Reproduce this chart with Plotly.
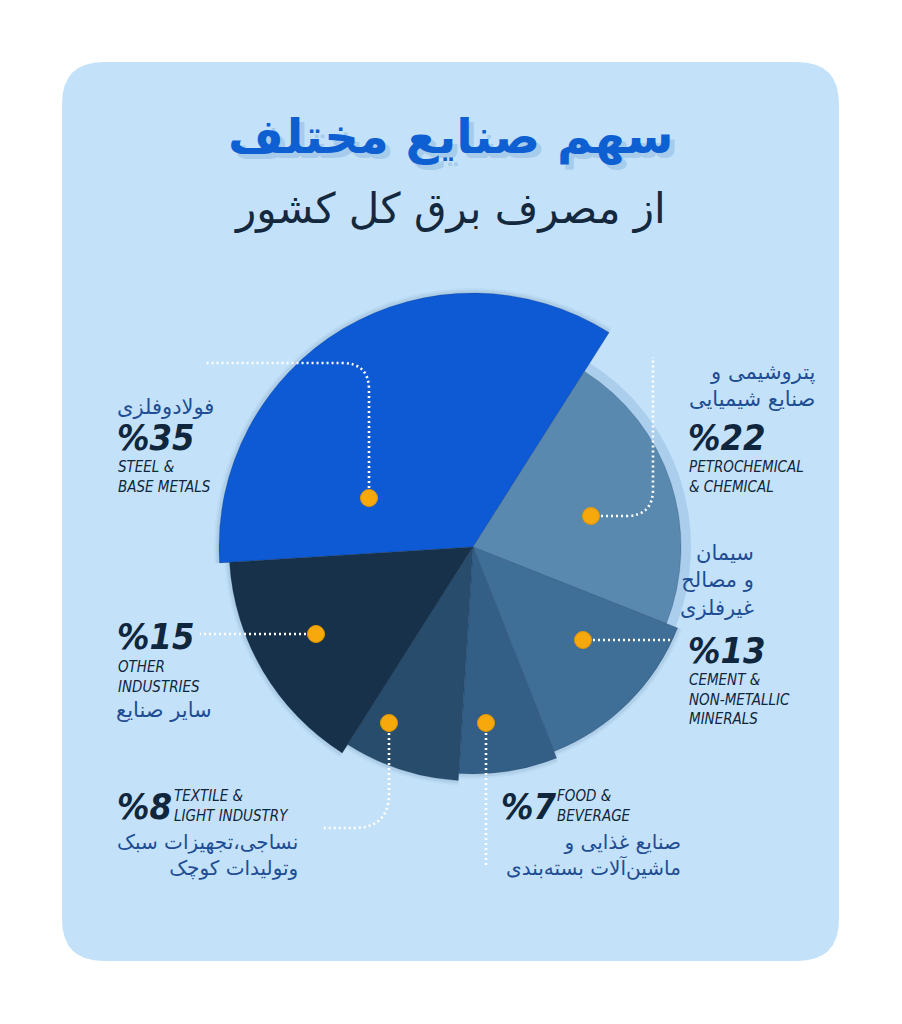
import plotly.graph_objects as go

W, H = 902, 1024

# ---------------- data ----------------
industries_en = ["STEEL &<br>BASE METALS", "PETROCHEMICAL<br>& CHEMICAL",
                 "CEMENT &<br>NON-METALLIC<br>MINERALS", "FOOD &<br>BEVERAGE",
                 "TEXTILE &<br>LIGHT INDUSTRY", "OTHER<br>INDUSTRIES"]
industries_fa = ["فولادوفلزی", "پتروشیمی و<br>صنایع شیمیایی", "سیمان<br>و مصالح<br>غیرفلزی",
                 "صنایع غذایی و<br>ماشین‌آلات بسته‌بندی", "نساجی،تجهیزات سبک<br>وتولیدات کوچک",
                 "سایر صنایع"]
shares = [35, 22, 13, 7, 8, 15]
title_fa = "سهم صنایع مختلف"
subtitle_fa = "از مصرف برق کل کشور"

# ---------------- style ----------------
slice_colors = ["#0D5AD4", "#5A89AF", "#3F6E97", "#335E86", "#274C6C", "#17314A"]
slice_radius = [254, 208, 220, 227, 234, 244]
start_angle = 183.6
NAVY = "#10263D"
FA_BLUE = "#1F4D93"
DOT = "#F7A80C"
CX, CY, RMAX = 473, 547, 260
EN_FONT = "DejaVu Sans Condensed, sans-serif"
FA_FONT = "DejaVu Sans, Noto Sans, sans-serif"


def px(x):
    return x / W


def py(y):
    return 1 - y / H


total = sum(shares)
widths, centers = [], []
cum = 0
for v in shares:
    w = v / total * 360
    widths.append(w)
    centers.append(start_angle - cum - w / 2)
    cum += w

fig = go.Figure()

# soft shadows behind slices
for k, a in [(5, 0.05), (3, 0.07)]:
    fig.add_trace(go.Barpolar(
        theta=centers, width=widths, r=[r + k for r in slice_radius],
        marker=dict(color=f"rgba(30,70,120,{a})", line=dict(width=0)),
        hoverinfo="skip", showlegend=False))
# halo around petrochemical slice
fig.add_trace(go.Barpolar(
    theta=[centers[1]], width=[widths[1] + 1.5], r=[slice_radius[1] + 10],
    marker=dict(color="#AACEEC", line=dict(width=0)),
    hoverinfo="skip", showlegend=False))
# slices
fig.add_trace(go.Barpolar(
    theta=centers, width=widths, r=slice_radius,
    marker=dict(color=slice_colors, line=dict(width=0.6, color="rgba(20,45,80,0.35)")),
    text=[f"%{v}" for v in shares], hoverinfo="text", showlegend=False))

fig.update_layout(
    width=W, height=H,
    margin=dict(l=0, r=0, t=0, b=0),
    paper_bgcolor="white", plot_bgcolor="white",
    showlegend=False,
    polar=dict(
        domain=dict(x=[px(CX - RMAX), px(CX + RMAX)], y=[py(CY + RMAX), py(CY - RMAX)]),
        bgcolor="rgba(0,0,0,0)",
        barmode="overlay",
        bargap=0,
        radialaxis=dict(range=[0, RMAX], visible=False, showgrid=False),
        angularaxis=dict(visible=False, showgrid=False, rotation=0, direction="counterclockwise"),
    ),
)

shapes = []
# card background
x0, y0, x1, y1, rr = 62, 62, 839, 961, 42
card = (f"M {px(x0 + rr)} {py(y0)} L {px(x1 - rr)} {py(y0)} "
        f"Q {px(x1)} {py(y0)} {px(x1)} {py(y0 + rr)} L {px(x1)} {py(y1 - rr)} "
        f"Q {px(x1)} {py(y1)} {px(x1 - rr)} {py(y1)} L {px(x0 + rr)} {py(y1)} "
        f"Q {px(x0)} {py(y1)} {px(x0)} {py(y1 - rr)} L {px(x0)} {py(y0 + rr)} "
        f"Q {px(x0)} {py(y0)} {px(x0 + rr)} {py(y0)} Z")
shapes.append(dict(type="path", path=card, xref="paper", yref="paper", layer="below",
                   fillcolor="#C3E2FA", line=dict(width=0)))


def pth(points):
    out = []
    for p in points:
        if p[0] in ("M", "L"):
            out.append(f"{p[0]} {px(p[1])} {py(p[2])}")
        else:
            out.append(f"Q {px(p[1])} {py(p[2])} {px(p[3])} {py(p[4])}")
    return " ".join(out)


leaders = [
    [("M", 369, 498), ("L", 369, 390), ("Q", 369, 363, 342, 363), ("L", 205, 363)],
    [("M", 591, 516), ("L", 626, 516), ("Q", 653, 516, 653, 489), ("L", 653, 357)],
    [("M", 583, 640), ("L", 673, 640)],
    [("M", 486, 723), ("L", 486, 867)],
    [("M", 389, 723), ("L", 389, 793), ("Q", 389, 828, 354, 828), ("L", 322, 828)],
    [("M", 316, 634), ("L", 200, 634)],
]
for ld in leaders:
    shapes.append(dict(type="path", path=pth(ld), xref="paper", yref="paper", layer="above",
                       line=dict(color="white", width=2.6, dash="2px,3px")))

dots = [(369, 498), (591, 516), (583, 640), (486, 723), (389, 723), (316, 634)]
for (dx, dy) in dots:
    rd = 8.5
    shapes.append(dict(type="circle", xref="paper", yref="paper", layer="above",
                       x0=px(dx - rd), x1=px(dx + rd), y0=py(dy + rd), y1=py(dy - rd),
                       fillcolor=DOT, line=dict(color="#E39600", width=1)))
fig.update_layout(shapes=shapes)

ann = []


def add(text, x, y, size, color, font, xanchor="left", yanchor="middle", weight="normal",
        style="normal", align=None, shadow="none"):
    ann.append(dict(text=text, x=px(x), y=py(y), xref="paper", yref="paper",
                    xanchor=xanchor, yanchor=yanchor, showarrow=False,
                    align=align or xanchor,
                    font=dict(size=size, color=color, family=font, weight=weight, style=style,
                              shadow=shadow)))


# title
add(title_fa, 450, 136, 48, "#0E5FD2", FA_FONT, xanchor="center", weight="bold",
    shadow="5px 5px 0px #A7CBEB")
add(subtitle_fa, 450, 208, 42, "#14283E", FA_FONT, xanchor="center")

pct = [f"%{v}" for v in shares]
FS_P, FS_E, FS_F = 36, 15, 21

# Steel
add(industries_fa[0], 216, 407, FS_F, FA_BLUE, FA_FONT, xanchor="right")
add(pct[0], 115, 437, FS_P, NAVY, EN_FONT, weight="bold", style="italic")
add(industries_en[0], 116, 477, FS_E, NAVY, EN_FONT, style="italic")
# Petro
add(industries_fa[1], 818, 385, FS_F, FA_BLUE, FA_FONT, xanchor="right")
add(pct[1], 686, 437, FS_P, NAVY, EN_FONT, weight="bold", style="italic")
add(industries_en[1], 687, 477, FS_E, NAVY, EN_FONT, style="italic")
# Cement
add(industries_fa[2], 756, 580, FS_F, FA_BLUE, FA_FONT, xanchor="right")
add(pct[2], 686, 650, FS_P, NAVY, EN_FONT, weight="bold", style="italic")
add(industries_en[2], 687, 699, FS_E, NAVY, EN_FONT, style="italic")
# Other
add(pct[5], 115, 636, FS_P, NAVY, EN_FONT, weight="bold", style="italic")
add(industries_en[5], 116, 677, FS_E, NAVY, EN_FONT, style="italic")
add(industries_fa[5], 214, 710, FS_F, FA_BLUE, FA_FONT, xanchor="right")
# Textile
add(pct[4], 115, 806, FS_P, NAVY, EN_FONT, weight="bold", style="italic")
add(industries_en[4], 172, 806, FS_E, NAVY, EN_FONT, style="italic")
add(industries_fa[4], 300, 855, 20, FA_BLUE, FA_FONT, xanchor="right")
# Food
add(pct[3], 499, 806, FS_P, NAVY, EN_FONT, weight="bold", style="italic")
add(industries_en[3], 555, 806, FS_E, NAVY, EN_FONT, style="italic")
add(industries_fa[3], 683, 855, 20, FA_BLUE, FA_FONT, xanchor="right")

fig.update_layout(annotations=ann)
fig.write_html("out.html")
